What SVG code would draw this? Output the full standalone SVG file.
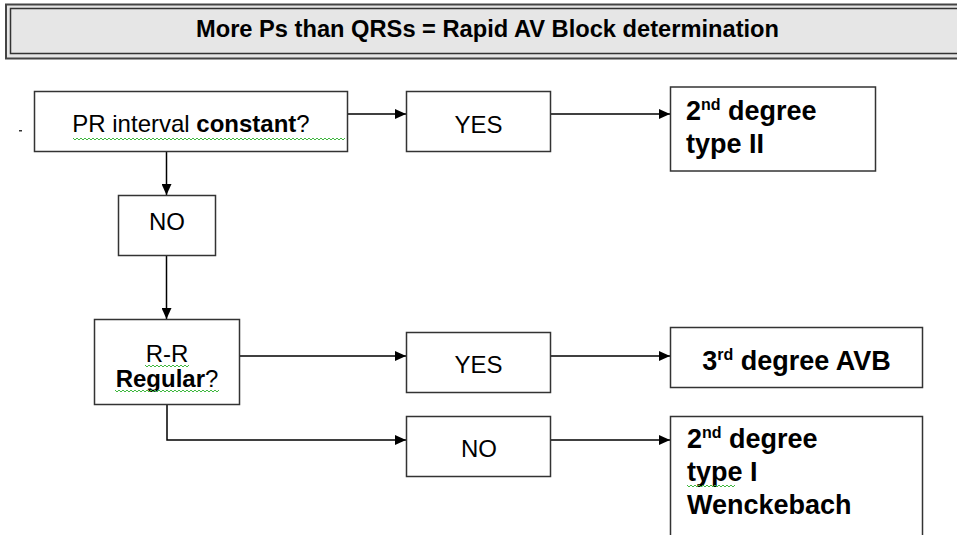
<svg xmlns="http://www.w3.org/2000/svg" width="957" height="535" viewBox="0 0 957 535">
<style>
  .box{fill:#fff;stroke:#333;stroke-width:1.5}
  .reg{font-family:"Liberation Sans",Arial,sans-serif;font-size:24px;fill:#000}
  .res{font-family:"Liberation Sans",Arial,sans-serif;font-size:27px;font-weight:bold;fill:#000}
  .b{font-weight:bold}
  .con{fill:none;stroke:#000;stroke-width:1.5}
  .wave{fill:none;stroke:#3fb83f;stroke-width:1}
</style>
<defs>
  <marker id="arr" markerUnits="userSpaceOnUse" markerWidth="12" markerHeight="10" refX="11" refY="5" orient="auto">
    <path d="M0,0 L11,5 L0,10 z" fill="#000"/>
  </marker>
</defs>
<rect width="957" height="535" fill="#fff"/>
<g id="header">
  <rect x="6" y="4.5" width="960" height="54" fill="#e6e6e6" stroke="#444" stroke-width="2"/>
  <rect x="10.5" y="8.5" width="960" height="45" fill="none" stroke="#333" stroke-width="1.5"/>
  <text x="487.5" y="37" text-anchor="middle" font-family="'Liberation Sans',Arial,sans-serif" font-size="23.5" font-weight="bold" textLength="583" lengthAdjust="spacingAndGlyphs">More Ps than QRSs = Rapid AV Block determination</text>
</g>
<rect x="19" y="130" width="3" height="1.5" fill="#333"/>
<g id="connectors">
  <line class="con" x1="347" y1="114" x2="406" y2="114" marker-end="url(#arr)"/>
  <line class="con" x1="551" y1="114" x2="670" y2="114" marker-end="url(#arr)"/>
  <line class="con" x1="166.5" y1="152" x2="166.5" y2="195" marker-end="url(#arr)"/>
  <line class="con" x1="166.5" y1="256" x2="166.5" y2="319" marker-end="url(#arr)"/>
  <line class="con" x1="239" y1="356" x2="406" y2="356" marker-end="url(#arr)"/>
  <line class="con" x1="551" y1="356" x2="670" y2="356" marker-end="url(#arr)"/>
  <polyline class="con" points="167,404 167,440 406,440" marker-end="url(#arr)"/>
  <line class="con" x1="551" y1="440" x2="670" y2="440" marker-end="url(#arr)"/>
</g>
<g id="pr">
  <rect class="box" x="34.5" y="91.5" width="313" height="60"/>
  <text class="reg" x="191" y="132" text-anchor="middle">PR interval <tspan class="b">constant</tspan>?</text>
  <path class="wave" d="M73,138 l2,2 l2,-2 l2,2 l2,-2 l2,2 l2,-2 l2,2 l2,-2 l2,2 l2,-2 l2,2 l2,-2 l2,2 l2,-2 l2,2 l2,-2 l2,2 l2,-2 l2,2 l2,-2 l2,2 l2,-2 l2,2 l2,-2 l2,2 l2,-2 l2,2 l2,-2 l2,2 l2,-2 l2,2 l2,-2 l2,2 l2,-2 l2,2 l2,-2 l2,2 l2,-2 l2,2 l2,-2 l2,2 l2,-2 l2,2 l2,-2 l2,2 l2,-2 l2,2 l2,-2 l2,2 l2,-2 l2,2 l2,-2 l2,2 l2,-2 l2,2 l2,-2 l2,2 l2,-2 l2,2 l2,-2 l2,2 l2,-2 l2,2 l2,-2 l2,2 l2,-2 l2,2 l2,-2 l2,2 l2,-2 l2,2 l2,-2 l2,2 l2,-2 l2,2 l2,-2 l2,2 l2,-2 l2,2 l2,-2 l2,2 l2,-2 l2,2 l2,-2 l2,2 l2,-2 l2,2 l2,-2 l2,2 l2,-2 l2,2 l2,-2 l2,2 l2,-2 l2,2 l2,-2 l2,2 l2,-2 l2,2 l2,-2 l2,2 l2,-2 l2,2 l2,-2 l2,2 l2,-2 l2,2 l2,-2 l2,2 l2,-2 l2,2 l2,-2 l2,2 l2,-2 l2,2 l2,-2 l2,2 l2,-2 l2,2 l2,-2 l2,2 l2,-2 l2,2 l2,-2 l2,2 l2,-2 l2,2 l2,-2 l2,2 l2,-2 l2,2 l2,-2 l2,2 l2,-2 l2,2 l2,-2"/>
</g>
<g id="yes1">
  <rect class="box" x="406.5" y="91.5" width="144" height="60"/>
  <text class="reg" x="478.5" y="133" text-anchor="middle">YES</text>
</g>
<g id="type2">
  <rect class="box" x="670.5" y="87" width="205" height="84"/>
  <text class="res" x="686" y="120">2<tspan font-size="16" dy="-10">nd</tspan><tspan dy="10"> degree</tspan></text>
  <text class="res" x="686" y="153">type II</text>
</g>
<g id="no1">
  <rect class="box" x="118.5" y="195.5" width="97" height="60"/>
  <text class="reg" x="167" y="230" text-anchor="middle" font-size="26">NO</text>
</g>
<g id="rr">
  <rect class="box" x="94.5" y="319.5" width="145" height="85"/>
  <text class="reg" x="167" y="362" text-anchor="middle">R-R</text>
  <text class="reg" x="167" y="387" text-anchor="middle"><tspan class="b">Regular</tspan>?</text>
  <path class="wave" d="M145,365 l2,2 l2,-2 l2,2 l2,-2 l2,2 l2,-2 l2,2 l2,-2 l2,2 l2,-2 l2,2 l2,-2 l2,2 l2,-2 l2,2 l2,-2 l2,2 l2,-2 l2,2 l2,-2 l2,2 l2,-2"/>
  <path class="wave" d="M115,390 l2,2 l2,-2 l2,2 l2,-2 l2,2 l2,-2 l2,2 l2,-2 l2,2 l2,-2 l2,2 l2,-2 l2,2 l2,-2 l2,2 l2,-2 l2,2 l2,-2 l2,2 l2,-2 l2,2 l2,-2 l2,2 l2,-2 l2,2 l2,-2 l2,2 l2,-2 l2,2 l2,-2 l2,2 l2,-2 l2,2 l2,-2 l2,2 l2,-2 l2,2 l2,-2 l2,2 l2,-2 l2,2 l2,-2 l2,2 l2,-2 l2,2 l2,-2 l2,2 l2,-2 l2,2 l2,-2 l2,2 l2,-2"/>
</g>
<g id="yes2">
  <rect class="box" x="406.5" y="332.5" width="144" height="60"/>
  <text class="reg" x="478.5" y="373" text-anchor="middle">YES</text>
</g>
<g id="no2">
  <rect class="box" x="406.5" y="416.5" width="144" height="60"/>
  <text class="reg" x="479" y="457" text-anchor="middle">NO</text>
</g>
<g id="type3">
  <rect class="box" x="670.5" y="327.5" width="252" height="60"/>
  <text class="res" x="796.5" y="370" text-anchor="middle">3<tspan font-size="16" dy="-10">rd</tspan><tspan dy="10"> degree AVB</tspan></text>
</g>
<g id="type1">
  <rect class="box" x="670.5" y="416.5" width="252" height="130"/>
  <text class="res" x="687" y="448">2<tspan font-size="16" dy="-10">nd</tspan><tspan dy="10"> degree</tspan></text>
  <text class="res" x="687" y="481">type I</text>
  <path class="wave" d="M687,485 l2,2 l2,-2 l2,2 l2,-2 l2,2 l2,-2 l2,2 l2,-2 l2,2 l2,-2 l2,2 l2,-2 l2,2 l2,-2 l2,2 l2,-2 l2,2 l2,-2 l2,2 l2,-2 l2,2 l2,-2 l2,2 l2,-2"/>
  <text class="res" x="687" y="514">Wenckebach</text>
</g>
</svg>
